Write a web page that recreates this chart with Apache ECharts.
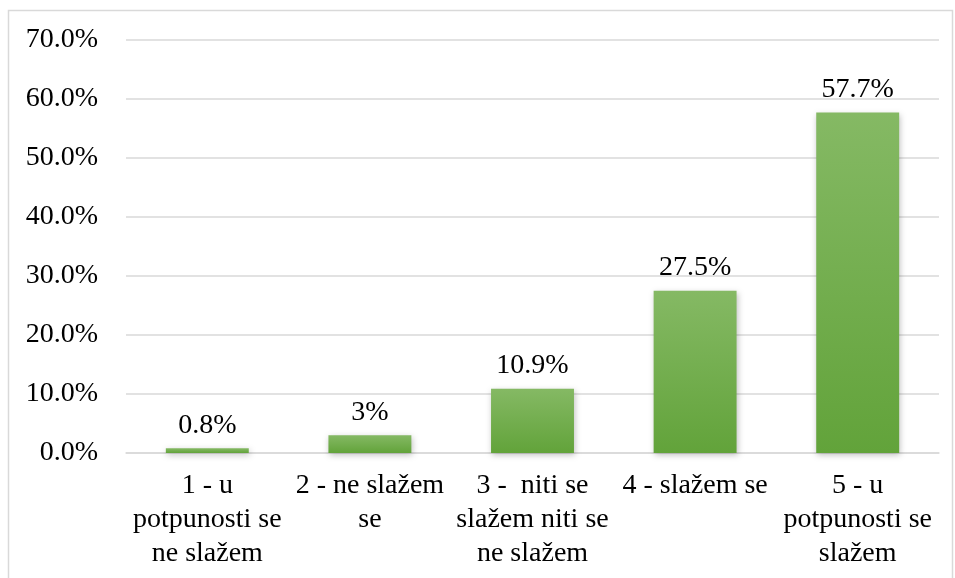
<!DOCTYPE html>
<html><head><meta charset="utf-8">
<script src="https://cdn.jsdelivr.net/npm/echarts@6/dist/echarts.min.js"></script>
<style>html,body{margin:0;padding:0;background:#fff}#c{width:955px;height:578px}</style>
</head><body><div id="c"></div>
<script>
var categories = ["1 - u\npotpunosti se\nne slažem", "2 - ne slažem\nse", "3 -  niti se\nslažem niti se\nne slažem", "4 - slažem se", "5 - u\npotpunosti se\nslažem"];
var values = [0.8, 3, 10.9, 27.5, 57.7];
var valueLabels = ["0.8%", "3%", "10.9%", "27.5%", "57.7%"];
var yTicks = [0, 10, 20, 30, 40, 50, 60, 70];

var font = "'Liberation Serif', 'DejaVu Serif', serif";
var chart = echarts.init(document.getElementById('c'));
chart.setOption({
  animation: false,
  graphic: [{type:'rect', shape:{x:8.5,y:10.5,width:944,height:580}, style:{fill:'none', stroke:'#d9d9d9', lineWidth:1.5}}],
  grid: {left: 126, right: 16, top: 40, bottom: 125, containLabel: false},
  xAxis: {
    type: 'category', data: categories,
    axisLine: {lineStyle: {color: '#d9d9d9', width: 1.5}},
    axisTick: {show: false},
    axisLabel: {fontFamily: font, fontSize: 28, color: '#000', lineHeight: 34, margin: 16, interval: 0}
  },
  yAxis: {
    type: 'value', min: 0, max: 70, interval: 10,
    axisLine: {show: false}, axisTick: {show: false},
    splitLine: {lineStyle: {color: '#d9d9d9', width: 1.5}},
    axisLabel: {fontFamily: font, fontSize: 28, color: '#000', margin: 28,
      formatter: function(v){ return yTicks.indexOf(v) >= 0 ? v.toFixed(1) + '%' : ''; }}
  },
  series: [{
    type: 'bar', data: values, barWidth: '51%',
    itemStyle: {
      color: new echarts.graphic.LinearGradient(0,0,0,1,[{offset:0,color:'#85b964'},{offset:1,color:'#62a33a'}]),
      shadowColor: 'rgba(0,0,0,0.25)', shadowBlur: 6, shadowOffsetX: 1, shadowOffsetY: 2
    },
    label: {show: true, position: 'top', distance: 9, fontFamily: font, fontSize: 28, color: '#000',
      formatter: function(p){ return valueLabels[p.dataIndex]; }}
  }]
});
</script></body></html>
